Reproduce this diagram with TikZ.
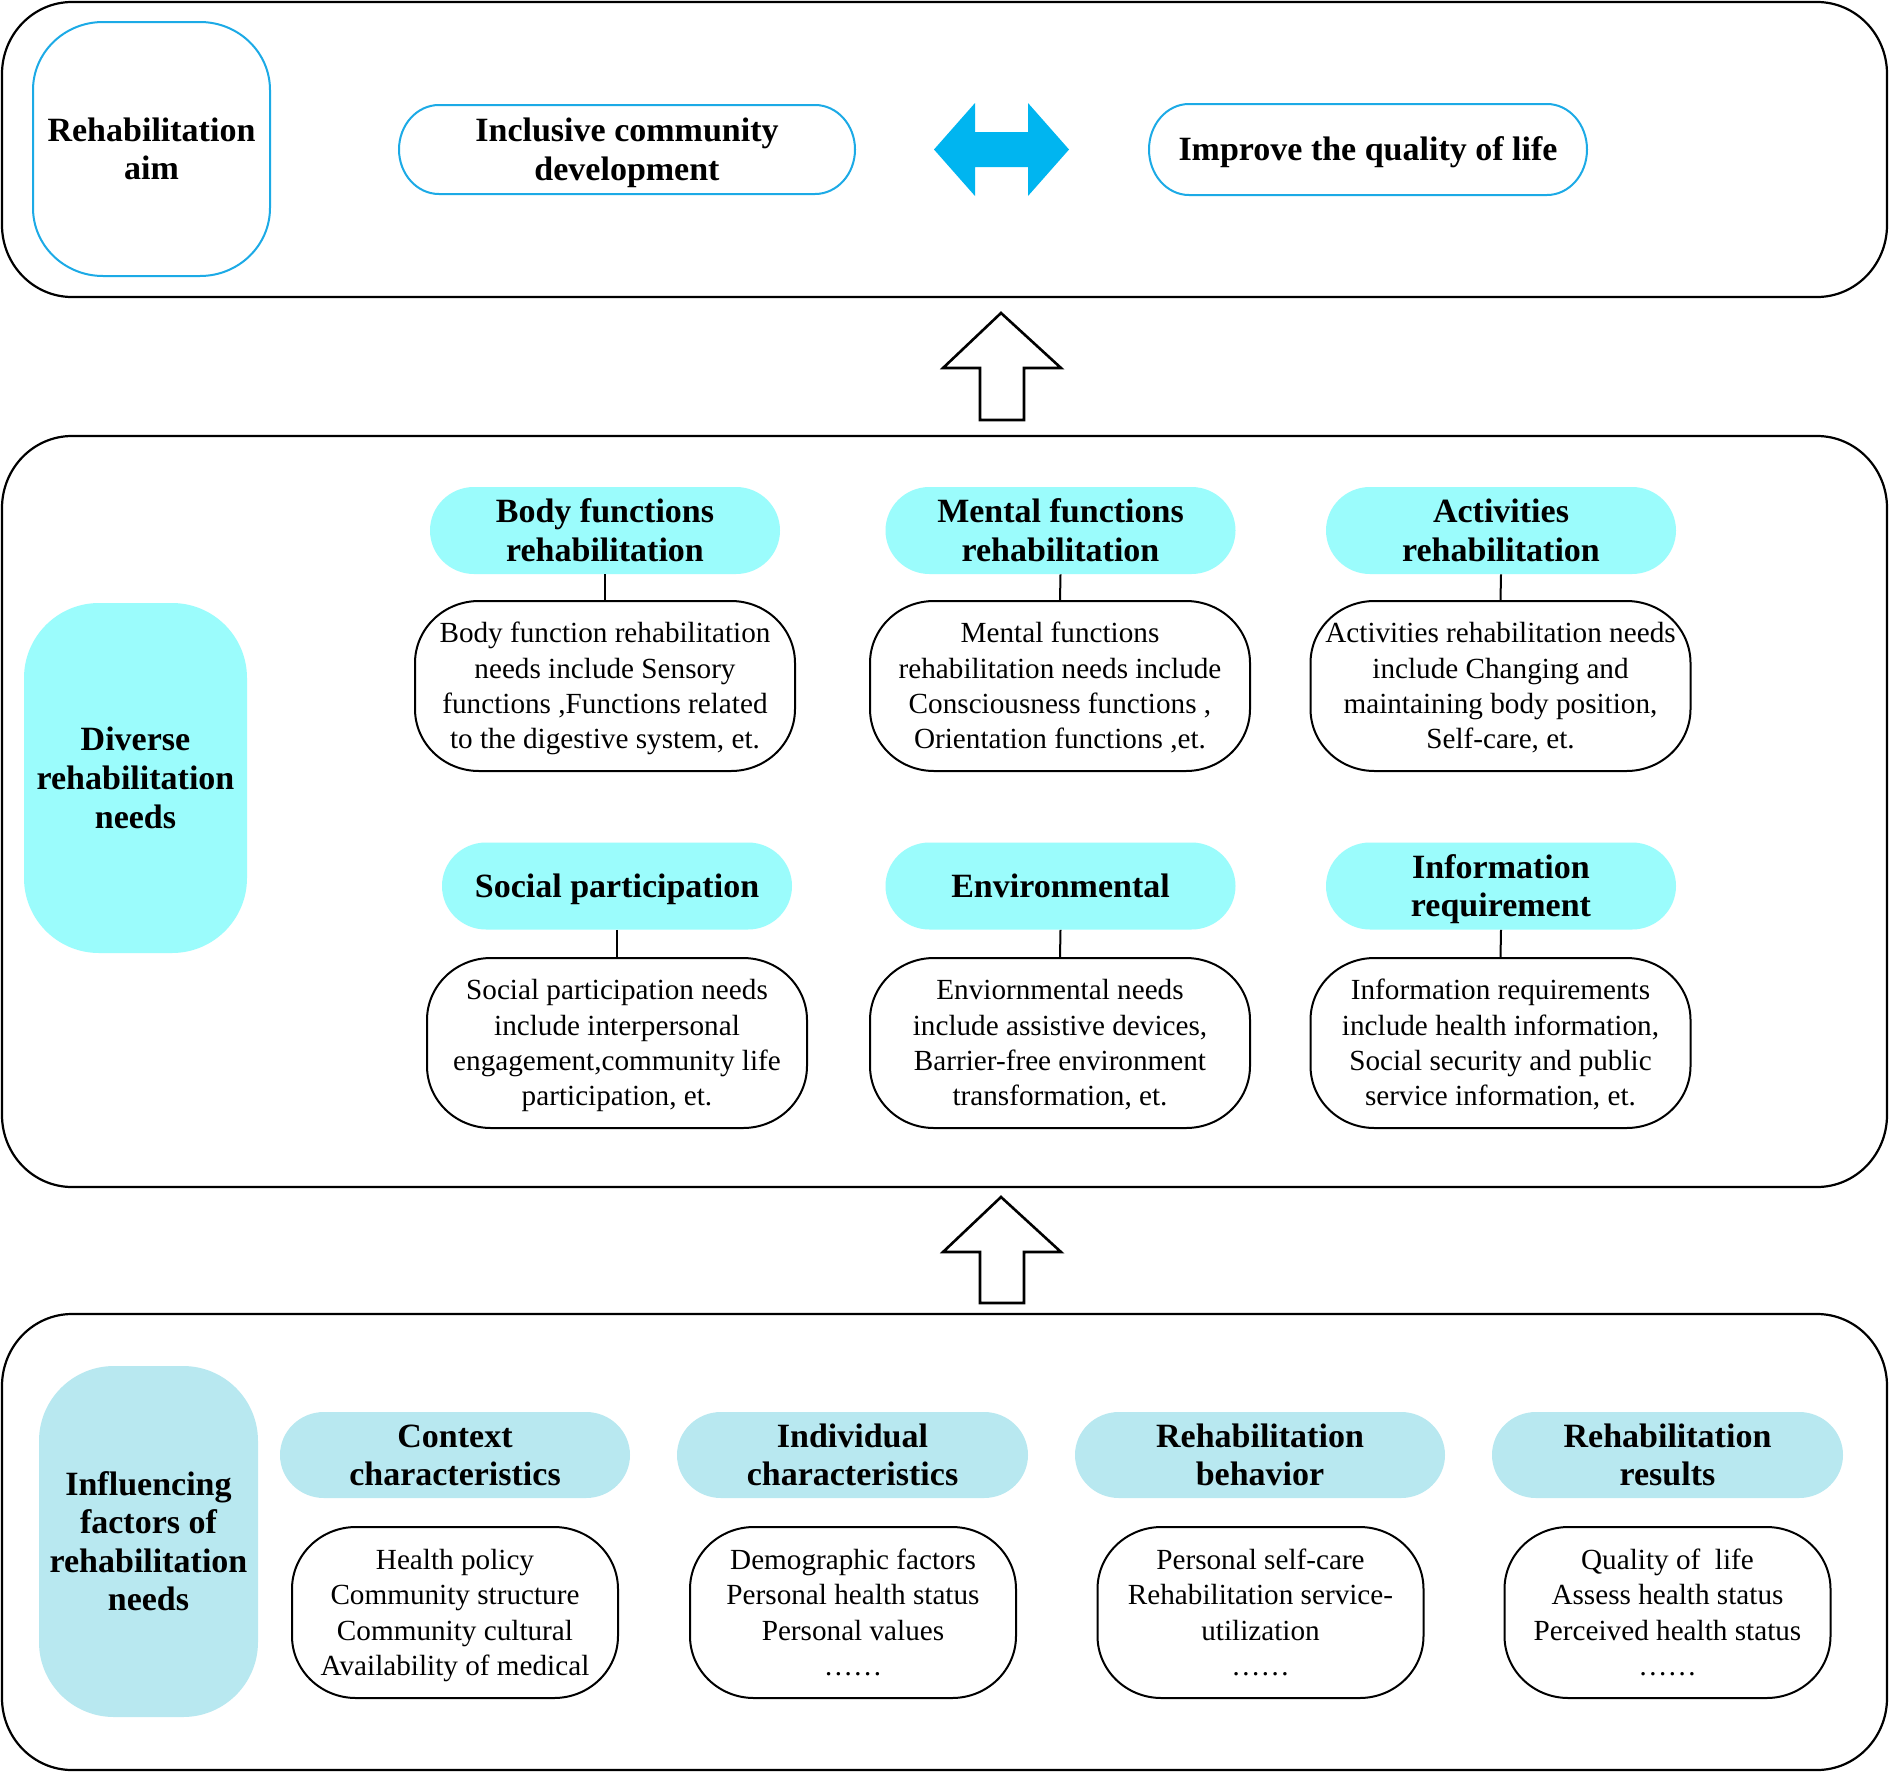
\documentclass[tikz,border=0pt]{standalone}
\usepackage{fontspec}
\setmainfont{Liberation Serif}
\usetikzlibrary{backgrounds}
\definecolor{bordblue}{RGB}{28,170,230}
\definecolor{arrblue}{RGB}{0,181,240}
\definecolor{hdrcyan}{RGB}{155,252,252}
\definecolor{hdrlight}{RGB}{184,232,240}
% line strut with the font's ascent and descent
\newcommand{\wst}{\rule[-0.216em]{0pt}{1.107em}}
% elliptical rounded box around a node centre: name, half width, half height, rx, ry (pt), style
\newcommand{\ebox}[6]{%
 \pgfmathsetmacro{\myEx}{#2-#4}%
 \pgfmathsetmacro{\myEy}{#3-#5}%
 \path[#6] ([shift={(-\myEx pt,#3pt)}]#1.center) -- ([shift={(\myEx pt,#3pt)}]#1.center)
   arc[start angle=90,end angle=0,x radius=#4pt,y radius=#5pt]
   -- ([shift={(#2pt,-\myEy pt)}]#1.center)
   arc[start angle=0,end angle=-90,x radius=#4pt,y radius=#5pt]
   -- ([shift={(-\myEx pt,-#3pt)}]#1.center)
   arc[start angle=-90,end angle=-180,x radius=#4pt,y radius=#5pt]
   -- ([shift={(-#2pt,\myEy pt)}]#1.center)
   arc[start angle=180,end angle=90,x radius=#4pt,y radius=#5pt]
   -- cycle;}
\tikzset{
 txt/.style={align=center, inner sep=0pt, text=black, font=\fontsize{14.6}{17.65}\selectfont},
 btxt/.style={align=center, inner sep=0pt, text=black, font=\fontsize{17}{19.3}\selectfont\bfseries},
 hdrsize/.style={minimum width=175pt, minimum height=43.5pt},
 descsize/.style={minimum width=160pt, minimum height=85pt},
 outerline/.style={draw=black, line width=1.1pt, fill=white},
 blueline/.style={draw=bordblue, line width=1pt, fill=white},
 descline/.style={draw=black, line width=1pt, fill=white},
 cyanfill/.style={fill=hdrcyan},
 lightfill/.style={fill=hdrlight},
 conn/.style={draw=black, line width=1pt},
 uparrow/.style={draw=black, line width=1.3pt, fill=white, line join=miter},
}
\begin{document}
\begin{tikzpicture}[x=0.5pt,y=-0.5pt]
\useasboundingbox (0,0) rectangle (1890,1772);
% outer frame centres
\coordinate (topc) at (944.5,149.5);
\coordinate (midc) at (944.5,811.5);
\coordinate (botc) at (944.5,1542);
% ---------- top section ----------
\node[btxt] (aim) at (151.5,149) {\wst Rehabilitation\\aim\wst};
\node[btxt, minimum width=228pt, minimum height=44.5pt] (incl) at (627,149.5) {\wst Inclusive community\\development\wst};
\node[btxt, minimum width=219pt, minimum height=45.5pt] (qol) at (1368,149.5) {\wst Improve the quality of life\wst};
\fill[arrblue] (934,149.5) -- (975,103) -- (975,132) -- (1028,132) -- (1028,103) -- (1069,149.5)
  -- (1028,196) -- (1028,167) -- (975,167) -- (975,196) -- cycle;
% up arrows
\draw[uparrow] (1001,313) -- (1061,368) -- (1024,368) -- (1024,420) -- (980,420) -- (980,368) -- (943,368) -- cycle;
\draw[uparrow] (1001,1197) -- (1061,1252) -- (1024,1252) -- (1024,1303) -- (980,1303) -- (980,1252) -- (943,1252) -- cycle;
% ---------- middle section ----------
\node[btxt] (div) at (135.5,778) {\wst Diverse\\rehabilitation\\needs\wst};
\node[btxt,hdrsize] (h1) at (605,530.5) {\wst Body functions\\rehabilitation\wst};
\node[btxt,hdrsize] (h2) at (1060.5,530.5) {\wst Mental functions\\rehabilitation\wst};
\node[btxt,hdrsize] (h3) at (1501,530.5) {\wst Activities\\rehabilitation\wst};
\node[txt,descsize] (d1) at (605,686) {\wst Body function rehabilitation\\needs include Sensory\\functions ,Functions related\\to the digestive system, et.\wst};
\node[txt,descsize] (d2) at (1060,686) {\wst Mental functions\\rehabilitation needs include\\Consciousness functions ,\\Orientation functions ,et.\wst};
\node[txt,descsize] (d3) at (1500.5,686) {\wst Activities rehabilitation needs\\include Changing and\\maintaining body position,\\Self-care, et.\wst};
\node[btxt,hdrsize] (h4) at (617,886) {\wst Social participation\wst};
\node[btxt,hdrsize] (h5) at (1060.5,886) {\wst Environmental\wst};
\node[btxt,hdrsize] (h6) at (1501,886) {\wst Information\\requirement\wst};
\node[txt,descsize] (d4) at (617,1043) {\wst Social participation needs\\include interpersonal\\engagement,community life\\participation, et.\wst};
\node[txt,descsize] (d5) at (1060,1043) {\wst Enviornmental needs\\include assistive devices,\\Barrier-free environment\\transformation, et.\wst};
\node[txt,descsize] (d6) at (1500.5,1043) {\wst Information requirements\\include health information,\\Social security and public\\service information, et.\wst};
\draw[conn] (h1.south) -- (d1.north);
\draw[conn] (h2.south) -- (d2.north);
\draw[conn] (h3.south) -- (d3.north);
\draw[conn] (h4.south) -- (d4.north);
\draw[conn] (h5.south) -- (d5.north);
\draw[conn] (h6.south) -- (d6.north);
% ---------- bottom section ----------
\node[btxt] (inf) at (148.5,1541.5) {\wst Influencing\\factors of\\rehabilitation\\needs\wst};
\node[btxt] (b1) at (455,1455) {\wst Context\\characteristics\wst};
\node[btxt] (b2) at (852.5,1455) {\wst Individual\\characteristics\wst};
\node[btxt] (b3) at (1260,1455) {\wst Rehabilitation\\behavior\wst};
\node[btxt] (b4) at (1667.5,1455) {\wst Rehabilitation\\results\wst};
\node[txt] (c1) at (455,1612.5) {\wst Health policy\\Community structure\\Community cultural\\Availability of medical\wst};
\node[txt] (c2) at (853,1612.5) {\wst Demographic factors\\Personal health status\\Personal values\\……\wst};
\node[txt] (c3) at (1260.5,1612.5) {\wst Personal self-care\\Rehabilitation service-\\utilization\\……\wst};
\node[txt] (c4) at (1667.5,1612.5) {\wst Quality of~ life\\Assess health status\\Perceived health status\\……\wst};
% ---------- shapes behind text ----------
\begin{pgfonlayer}{background}
 \ebox{topc}{471.25}{73.75}{35}{36}{outerline}
 \ebox{midc}{471.25}{187.75}{35}{36}{outerline}
 \ebox{botc}{471.25}{114}{35}{36}{outerline}
 \ebox{aim}{59.25}{63.5}{35}{34}{blueline}
 \ebox{incl}{114}{22.25}{20}{22.25}{blueline}
 \ebox{qol}{109.5}{22.75}{20}{22.75}{blueline}
 \ebox{div}{55.75}{87.5}{37.5}{37.5}{cyanfill}
 \foreach \n in {h1,h2,h3,h4,h5,h6} {\ebox{\n}{87.5}{21.75}{22}{21.75}{cyanfill}}
 \foreach \n in {d1,d2,d3,d4,d5,d6} {\ebox{\n}{95}{42.5}{32}{31}{descline}}
 \ebox{inf}{54.75}{87.75}{37.5}{37.5}{lightfill}
 \ebox{b1}{87.5}{21.5}{22}{21.5}{lightfill}
 \ebox{b2}{87.75}{21.5}{22}{21.5}{lightfill}
 \ebox{b3}{92.5}{21.5}{22}{21.5}{lightfill}
 \ebox{b4}{87.75}{21.5}{22}{21.5}{lightfill}
 \foreach \n in {c1,c2,c3,c4} {\ebox{\n}{81.5}{42.75}{32}{31}{descline}}
\end{pgfonlayer}
\end{tikzpicture}
\end{document}
